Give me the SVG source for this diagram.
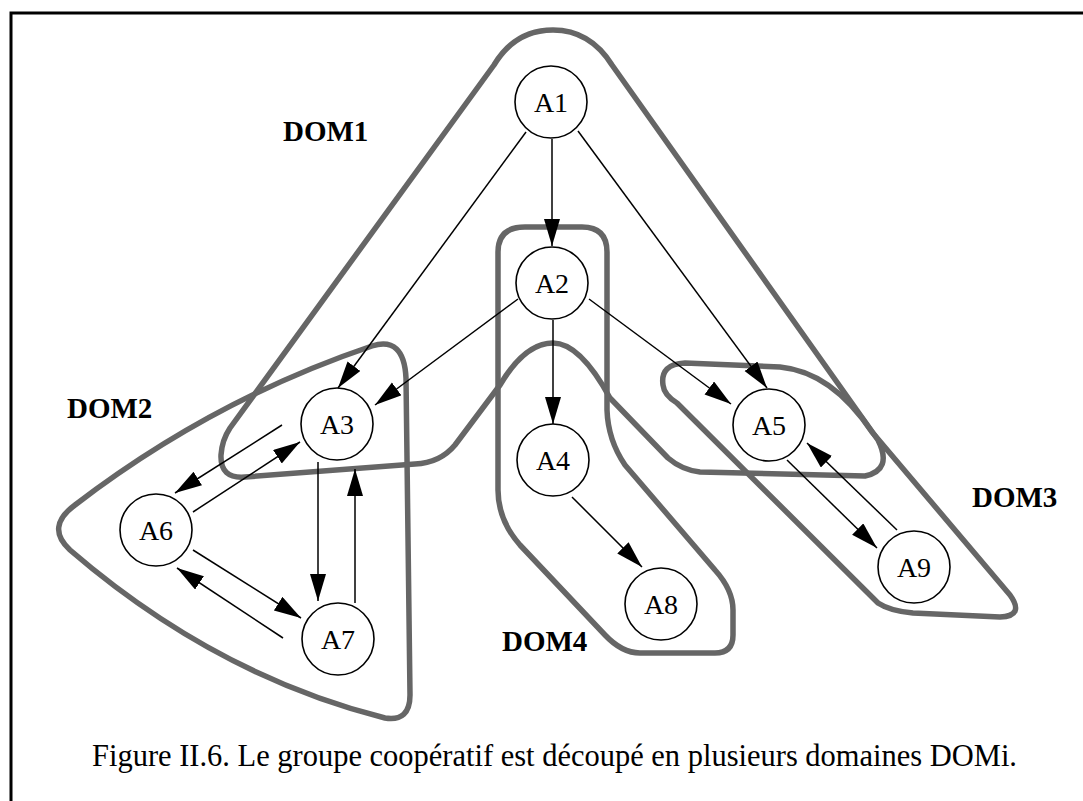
<svg xmlns="http://www.w3.org/2000/svg" width="1083" height="801" viewBox="0 0 1083 801">
<style>
.dom{fill:none;stroke:#666;stroke-width:5.5;stroke-linejoin:round}
.node circle{fill:#fff;stroke:#000;stroke-width:1.6}
.node text{font-family:"Liberation Serif",serif;font-size:28px;text-anchor:middle;fill:#000}
.lbl{font-family:"Liberation Serif",serif;font-size:29px;font-weight:bold;fill:#000}
.edge{stroke:#000;stroke-width:1.5;fill:none;marker-end:url(#ah)}
.cap{font-family:"Liberation Serif",serif;font-size:30.5px;fill:#000}
</style>
<defs>
<marker id="ah" markerUnits="userSpaceOnUse" markerWidth="30" markerHeight="18" refX="27" refY="8" orient="auto">
<path d="M0,0 L27,8 L0,16 Z" fill="#000"/>
</marker>
</defs>
<rect width="1083" height="801" fill="#fff"/>
<g id="frame" stroke="#000" stroke-width="3" fill="none">
<path d="M11,801 L11,13 L1083,13"/>
</g>
<g id="domains">
<path id="DOM1-shape" class="dom" d="M553,30 Q590,30 612,65 L878,440 Q893,470 865,476 L700,472 Q682,470 668,458 L610,398 Q580,343 553,343 Q525,343 500,385 L455,445 Q440,463 415,464 L245,477 Q220,479 221,455 Q222,440 230,428 L494,65 Q515,30 553,30 Z"/>
<path id="DOM2-shape" class="dom" d="M75,505 Q212,400 372,346 Q404,336 406,378 L410,695 Q410,722 385,718 Q215,675 70,550 Q45,527 75,505 Z"/>
<path id="DOM3-shape" class="dom" d="M663,385 Q660,364 685,363 L780,367 Q832,372 872,432 L1010,595 Q1025,616 1000,617 L913,613 Q890,611 878,603 L677,403 Q664,395 663,385 Z"/>
<path id="DOM4-shape" class="dom" d="M525,227 L582,227 Q607,227 607,252 L607,410 Q608,440 625,465 L715,570 Q733,590 733,610 L733,635 Q733,653 715,653 L640,653 Q622,653 605,635 L520,545 Q498,520 498,490 L498,252 Q498,227 525,227 Z"/>
</g>
<g id="connectors">
<line class="edge" x1="552" y1="139" x2="552" y2="246"/>
<line class="edge" x1="526" y1="132" x2="338" y2="388"/>
<line class="edge" x1="578" y1="131" x2="767" y2="388"/>
<line class="edge" x1="518" y1="299" x2="375" y2="405"/>
<line class="edge" x1="553" y1="320" x2="553" y2="424"/>
<line class="edge" x1="589" y1="299" x2="731" y2="404"/>
<line class="edge" x1="282" y1="425" x2="175" y2="493"/>
<line class="edge" x1="193" y1="512" x2="300" y2="442"/>
<line class="edge" x1="318" y1="462" x2="318" y2="601"/>
<line class="edge" x1="355" y1="603" x2="355" y2="469"/>
<line class="edge" x1="193" y1="550" x2="301" y2="618"/>
<line class="edge" x1="283" y1="638" x2="177" y2="568"/>
<line class="edge" x1="572" y1="497" x2="642" y2="567"/>
<line class="edge" x1="787" y1="460" x2="877" y2="548"/>
<line class="edge" x1="897" y1="530" x2="807" y2="443"/>
</g>
<g id="A1" class="node"><circle cx="551" cy="102" r="36"/><text x="551" y="112">A1</text></g>
<g id="A2" class="node"><circle cx="552" cy="283" r="36"/><text x="552" y="293">A2</text></g>
<g id="A3" class="node"><circle cx="337" cy="424" r="36"/><text x="337" y="434">A3</text></g>
<g id="A4" class="node"><circle cx="553" cy="460" r="36"/><text x="553" y="470">A4</text></g>
<g id="A5" class="node"><circle cx="769" cy="425" r="36"/><text x="769" y="435">A5</text></g>
<g id="A6" class="node"><circle cx="156" cy="530" r="36"/><text x="156" y="540">A6</text></g>
<g id="A7" class="node"><circle cx="338" cy="639" r="36"/><text x="338" y="649">A7</text></g>
<g id="A8" class="node"><circle cx="661" cy="604" r="36"/><text x="661" y="614">A8</text></g>
<g id="A9" class="node"><circle cx="914" cy="567" r="36"/><text x="914" y="577">A9</text></g>
<g id="labels">
<text class="lbl" x="283" y="141">DOM1</text>
<text class="lbl" x="67" y="418">DOM2</text>
<text class="lbl" x="972" y="507">DOM3</text>
<text class="lbl" x="502" y="651">DOM4</text>
</g>
<text class="cap" x="92" y="766" textLength="925" lengthAdjust="spacingAndGlyphs">Figure II.6. Le groupe coopératif est découpé en plusieurs domaines DOMi.</text>
</svg>
